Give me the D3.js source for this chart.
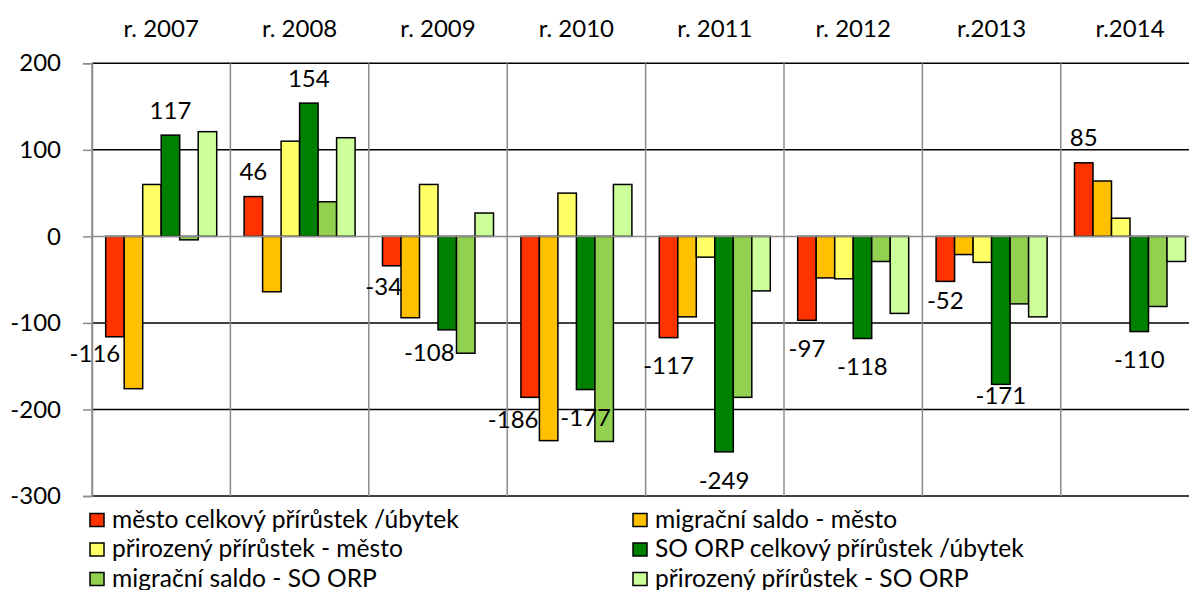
<!DOCTYPE html>
<html>
<head>
<meta charset="utf-8">
<script src="https://cdn.jsdelivr.net/npm/d3@7"></script>
<style>
  html, body { margin: 0; padding: 0; background: #fff; }
  svg { display: block; font-family: Lato, "Open Sans", sans-serif; }
</style>
</head>
<body>
<svg id="chart" width="1189" height="590"></svg>
<script>
// Population change by year: city vs. SO ORP (administrative district)
const years = ["r. 2007", "r. 2008", "r. 2009", "r. 2010", "r. 2011", "r. 2012", "r.2013", "r.2014"];

const seriesNames = [
  "město celkový přírůstek /úbytek",
  "migrační saldo - město",
  "přirozený přírůstek - město",
  "SO ORP celkový přírůstek /úbytek",
  "migrační saldo - SO ORP",
  "přirozený přírůstek - SO ORP"
];

const cityTotal      = [-116,  46,  -34, -186, -117,  -97,  -52,   85];
const cityMigration  = [-176, -64,  -94, -236,  -93,  -48,  -21,   64];
const cityNatural    = [  60, 110,   60,   50,  -24,  -49,  -30,   21];
const orpTotal       = [ 117, 154, -108, -177, -249, -118, -171, -110];
const orpMigration   = [  -4,  40, -135, -237, -186,  -29,  -78,  -81];
const orpNatural     = [ 121, 114,   27,   60,  -63,  -89,  -93,  -29];

const yTicks = [200, 100, 0, -100, -200, -300];

const seriesValues = [cityTotal, cityMigration, cityNatural, orpTotal, orpMigration, orpNatural];
const colors = ["#FF3300", "#FFC000", "#FFFF66", "#008000", "#92D050", "#CCFF99"];
// only the two "total" series carry value labels
const labelledSeries = [0, 3];

// hand-placed label nudges [dx, dy] keyed by "series-yearIndex"
const labelNudge = {
  "0-0": [-20, -11],
  "0-2": [-8, -7],
  "3-2": [-18, -5],
  "0-3": [-17, -6],
  "0-6": [0, -9],
  "3-6": [0, -17]
};

const svg = d3.select("#chart");
const fontSize = 24;
const legendFontSize = 24.6;

const plot = { left: 92, top: 63.3, bottom: 496, catWidth: 138.4 };
plot.right = plot.left + plot.catWidth * years.length;

const x0 = d3.scaleBand().domain(years).range([plot.left, plot.right]).padding(0);
const x1 = d3.scaleBand().domain(d3.range(seriesNames.length))
  .range([13.7, plot.catWidth - 13.7]).padding(0);
const y = d3.scaleLinear().domain([-300, 200]).range([plot.bottom, plot.top]);

// horizontal gridlines
svg.append("g")
  .selectAll("line")
  .data(yTicks.filter(t => t !== 0))
  .join("line")
  .attr("x1", plot.left).attr("x2", plot.right)
  .attr("y1", d => y(d)).attr("y2", d => y(d))
  .attr("stroke", "#000").attr("stroke-width", 1.5);

// vertical category separators
svg.append("g")
  .selectAll("line")
  .data(d3.range(years.length + 1))
  .join("line")
  .attr("x1", i => plot.left + i * plot.catWidth)
  .attr("x2", i => plot.left + i * plot.catWidth)
  .attr("y1", plot.top).attr("y2", plot.bottom)
  .attr("stroke", "#8c8c8c").attr("stroke-width", 1.5);

// y axis
const yAxis = d3.axisLeft(y).tickValues(yTicks).tickSize(9).tickPadding(22)
  .tickFormat(d => String(d));
const gy = svg.append("g").attr("transform", `translate(${plot.left},0)`).call(yAxis);
gy.select(".domain").attr("stroke", "#8c8c8c").attr("stroke-width", 1.5);
gy.selectAll(".tick line").attr("stroke", "#8c8c8c").attr("stroke-width", 1.5);
gy.selectAll(".tick text")
  .attr("font-size", fontSize).attr("fill", "#000")
  .attr("font-family", "Lato, sans-serif");

// category labels along the top
svg.append("g")
  .selectAll("text")
  .data(years)
  .join("text")
  .attr("x", d => x0(d) + x0.bandwidth() / 2)
  .attr("y", 36.5)
  .attr("text-anchor", "middle")
  .attr("font-size", fontSize)
  .attr("fill", "#000")
  .text(d => d);

// bars
const groups = svg.append("g")
  .selectAll("g")
  .data(years)
  .join("g")
  .attr("transform", d => `translate(${x0(d)},0)`);

groups.selectAll("rect")
  .data((d, i) => seriesValues.map((vals, s) => ({ s, v: vals[i] })))
  .join("rect")
  .attr("x", d => x1(d.s))
  .attr("width", x1.bandwidth())
  .attr("y", d => y(Math.max(0, d.v)))
  .attr("height", d => Math.abs(y(d.v) - y(0)))
  .attr("fill", d => colors[d.s])
  .attr("stroke", "#000")
  .attr("stroke-width", 1.5);

// zero axis line drawn over the bars
svg.append("line")
  .attr("x1", plot.left).attr("x2", plot.right)
  .attr("y1", y(0)).attr("y2", y(0))
  .attr("stroke", "#8c8c8c").attr("stroke-width", 1.5);

// value labels
const labelData = [];
labelledSeries.forEach(s => {
  years.forEach((yr, i) => {
    const v = seriesValues[s][i];
    const nudge = labelNudge[`${s}-${i}`] || [0, 0];
    const cx = x0(yr) + x1(s) + x1.bandwidth() / 2 + nudge[0];
    const cy = (v >= 0 ? y(v) - 25 : y(v) + 28) + nudge[1];
    labelData.push({ v, cx, cy });
  });
});

svg.append("g")
  .selectAll("text")
  .data(labelData)
  .join("text")
  .attr("x", d => d.cx)
  .attr("y", d => d.cy)
  .attr("dy", "0.36em")
  .attr("text-anchor", "middle")
  .attr("font-size", fontSize)
  .attr("fill", "#000")
  .text(d => String(d.v));

// legend: two columns, three rows
const legend = svg.append("g")
  .selectAll("g")
  .data(seriesNames)
  .join("g")
  .attr("transform", (d, i) => {
    const col = i % 2, row = Math.floor(i / 2);
    return `translate(${col === 0 ? 90 : 633},${513.5 + row * 29.5})`;
  });

legend.append("rect")
  .attr("width", 14).attr("height", 13)
  .attr("fill", (d, i) => colors[i])
  .attr("stroke", "#000").attr("stroke-width", 1.5);

legend.append("text")
  .attr("x", 22)
  .attr("y", 14)
  .attr("font-size", legendFontSize)
  .attr("fill", "#000")
  .text(d => d);
</script>
</body>
</html>
